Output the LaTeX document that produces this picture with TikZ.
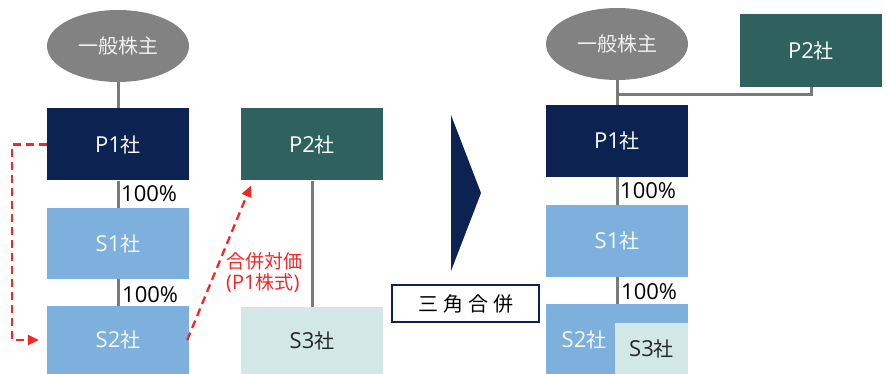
\documentclass[tikz,border=0pt]{standalone}
\usepackage{fontspec}
\setmainfont{Open Sans}
\newfontfamily\jpfont{Noto Sans CJK JP}
\newcommand\J[1]{{\fontsize{20}{22}\selectfont\jpfont #1}}
\newcommand\Js[1]{{\fontsize{19}{21}\selectfont\jpfont #1}}
\usetikzlibrary{arrows.meta,shapes.geometric}
\definecolor{navy}{HTML}{0C2352}
\definecolor{teal2}{HTML}{2F615F}
\definecolor{lblue}{HTML}{7DB0DC}
\definecolor{pale}{HTML}{D2E8E6}
\definecolor{ellgray}{HTML}{828282}
\definecolor{linegray}{HTML}{7A7A7A}
\definecolor{redd}{HTML}{F02828}
\tikzset{
  box/.style={draw=none, minimum width=142pt, minimum height=72pt, inner sep=0pt, font=\fontsize{22}{24}\selectfont},
  holder/.style={ellipse, fill=ellgray, minimum width=142pt, minimum height=72pt, inner sep=0pt, text=white!88!gray, font=\fontsize{22}{24}\selectfont},
  conn/.style={draw=linegray, line width=3pt},
  pct/.style={anchor=west, inner sep=1pt, font=\fontsize{22}{24}\selectfont},
  reddash/.style={draw=redd, line width=2.3pt, dash pattern=on 8pt off 5pt},
  redtip/.style={-{Triangle[length=11pt,width=10pt]}},
}
\begin{document}
\begin{tikzpicture}[x=1pt,y=-1pt]
\useasboundingbox (0,0) rectangle (887,374);
% ---------- left panel ----------
\node[holder] (ellL) at (118,46) {\J{一般株主}};
\node[box, fill=navy, text=white] (P1L) at (118,144.5) {P1\J{社}};
\node[box, fill=lblue, text=white!92!lblue, minimum height=71pt] (S1L) at (118,243.5) {S1\J{社}};
\node[box, fill=lblue, text=white!92!lblue, minimum height=68pt] (S2L) at (118,340) {S2\J{社}};
\node[box, fill=teal2, text=white] (P2L) at (312,144.5) {P2\J{社}};
\node[box, fill=pale, text=black!85, minimum height=67pt] (S3L) at (312,340.5) {S3\J{社}};
\draw[conn] (ellL.south) -- (P1L.north);
\draw[conn] (P1L.south) -- (S1L.north);
\draw[conn] (S1L.south) -- (S2L.north);
\draw[conn] (P2L.south) -- (S3L.north);
\node[pct] (pL1) at (120,194) {100\%};
\node[pct] (pL2) at (121,295) {100\%};
% red dashed arrows
\coordinate (rt) at (12,144.5);
\draw[reddash, redtip] (P1L.west) -- (rt) |- ([xshift=-8pt]S2L.west);
\draw[reddash, redtip] ([xshift=-2pt]S2L.east) -- ([xshift=10pt,yshift=-5pt]P2L.south west);
\node[anchor=west, align=left, text=redd, inner sep=0pt, font=\fontsize{20}{21}\selectfont] (cons) at (226,273) {\Js{合併対価}\\(P1\Js{株式})};
% ---------- middle ----------
\path[fill=navy] (451,115) -- (481,193) -- (451,271) -- cycle;
\node[draw=navy, line width=2pt, fill=white, minimum width=147pt, minimum height=37pt, inner sep=0pt] (tri) at (465.5,303.5) {\J{三\hspace{5pt}角\hspace{5pt}合\hspace{5pt}併}};
% ---------- right panel ----------
\node[holder] (ellR) at (617,44) {\J{一般株主}};
\node[box, fill=teal2, text=white, minimum height=73pt] (P2R) at (811,50.5) {P2\J{社}};
\node[box, fill=navy, text=white] (P1R) at (617,141) {P1\J{社}};
\node[box, fill=lblue, text=white!92!lblue] (S1R) at (617,241) {S1\J{社}};
\node[box, fill=lblue, minimum height=70pt] (S2R) at (617,339) {};
\node[box, fill=pale, text=black!85, minimum width=73pt, minimum height=51pt] (S3R) at (651.5,348.5) {S3\J{社}};
\node[text=white!92!lblue, inner sep=0pt, font=\fontsize{22}{24}\selectfont] (S2Rt) at (584,340) {S2\J{社}};
\coordinate (jn) at (617,95);
\draw[conn] (ellR.south) -- (P1R.north);
\draw[conn] (P2R.south) |- (jn);
\draw[conn] (P1R.south) -- (S1R.north);
\draw[conn] (S1R.south) -- (S2R.north);
\node[pct] (pR1) at (619,191) {100\%};
\node[pct] (pR2) at (620,292) {100\%};
\end{tikzpicture}
\end{document}
